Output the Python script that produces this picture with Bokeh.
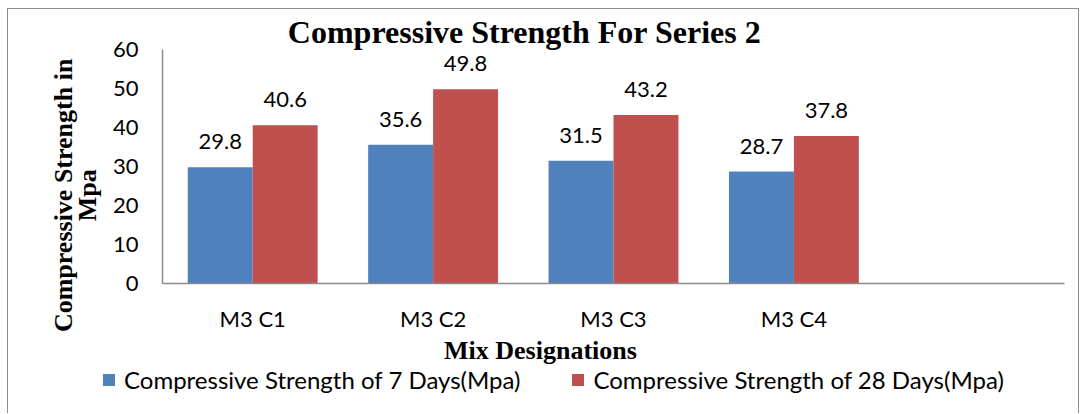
import math
from bokeh.plotting import figure
from bokeh.models import (ColumnDataSource, Range1d, LabelSet, Label, Legend, LegendItem,
                          LinearAxis, FixedTicker)
from bokeh.transform import dodge
from bokeh.core.properties import value
from bokeh.embed import file_html
from bokeh.resources import INLINE

# ---- data ----
categories = ["M3 C1", "M3 C2", "M3 C3", "M3 C4"]
strength_7_days = [29.8, 35.6, 31.5, 28.7]
strength_28_days = [40.6, 49.8, 43.2, 37.8]
series_names = ["Compressive Strength of 7 Days(Mpa)", "Compressive Strength of 28 Days(Mpa)"]
title_text = "Compressive Strength For Series 2"
x_title = "Mix Designations"
y_title_lines = ["Compressive Strength in", "Mpa"]
y_ticks = [0, 10, 20, 30, 40, 50, 60]
n_slots = 5  # the category axis has one empty slot at the right
x_centers = [i + 0.5 for i in range(len(categories))]

BLUE = "#4F81BD"
RED = "#C0504D"
AXIS = "#8c8c8c"
SANS = "Lato"
SERIF = "Liberation Serif"

src = ColumnDataSource(dict(
    x=x_centers,
    v7=strength_7_days,
    v28=strength_28_days,
    l7=[f"{v}" for v in strength_7_days],
    l28=[f"{v}" for v in strength_28_days],
))

p = figure(x_range=Range1d(-0.8537, 5.0887), y_range=Range1d(-33.59, 70.26),
           width=1072, height=405, output_backend="svg", toolbar_location=None,
           x_axis_type=None, y_axis_type=None, min_border=0)
p.title.visible = False
p.outline_line_color = None
p.background_fill_color = "white"
p.border_fill_color = "white"
p.grid.visible = False

r7 = p.vbar(x=dodge("x", -0.18), top="v7", width=0.36, source=src,
            fill_color=BLUE, line_color=None)
r28 = p.vbar(x=dodge("x", 0.18), top="v28", width=0.36, source=src,
             fill_color=RED, line_color=None)

for col, lab, off in (("v7", "l7", -0.18), ("v28", "l28", 0.18)):
    p.add_layout(LabelSet(x=dodge("x", off), y=col, text=lab, source=src,
                          y_offset=18, text_align="center", text_baseline="alphabetic",
                          text_font=value(SANS), text_font_size="22px", text_color="black"))

# axes, pinned at the plot-area edges
xaxis = LinearAxis(fixed_location=0, bounds=(0, n_slots),
                   ticker=FixedTicker(ticks=x_centers),
                   major_label_overrides={xc: c for xc, c in zip(x_centers, categories)})
yaxis = LinearAxis(fixed_location=0, bounds=(y_ticks[0], y_ticks[-1]),
                   ticker=FixedTicker(ticks=y_ticks))
for ax in (xaxis, yaxis):
    ax.axis_line_color = AXIS
    ax.axis_line_width = 1.5
    ax.major_tick_line_color = None
    ax.minor_tick_line_color = None
    ax.major_tick_out = 0
    ax.major_tick_in = 0
    ax.minor_tick_out = 0
    ax.major_label_text_font = SANS
    ax.major_label_text_font_size = "22px"
    ax.major_label_text_color = "black"
yaxis.major_label_standoff = 24
xaxis.major_label_standoff = 21
p.add_layout(xaxis, "below")
p.add_layout(yaxis, "left")

# title and axis titles
p.add_layout(Label(x=2.007, y=64.5, text=title_text, text_align="center", text_baseline="alphabetic",
                   text_font=SERIF, text_font_style="bold", text_font_size="32px",
                   text_color="black"))
p.add_layout(Label(x=2.095, y=-17.2, text=x_title, text_align="center", text_baseline="alphabetic",
                   text_font=SERIF, text_font_style="bold", text_font_size="26px",
                   text_color="black"))
for xv, t in zip((-0.548, -0.415), y_title_lines):
    p.add_layout(Label(x=xv, y=22.6, text=t, angle=math.pi / 2, text_align="center",
                       text_baseline="alphabetic", text_font=SERIF, text_font_style="bold",
                       text_font_size="26px", text_color="black"))

legend = Legend(items=[LegendItem(label=series_names[0], renderers=[r7]),
                       LegendItem(label=series_names[1], renderers=[r28])],
                location=(93, 20), orientation="horizontal",
                glyph_width=15, glyph_height=15, label_standoff=8, spacing=50,
                padding=0, margin=0, border_line_color=None, background_fill_alpha=0,
                label_text_font=SANS, label_text_font_size="24px", label_text_color="black",
                label_height=15)
p.add_layout(legend, "center")

p.styles = {"border-left": "1px solid #8c8c8c", "border-top": "1px solid #8c8c8c",
            "border-right": "1px solid #8c8c8c", "margin-left": "7px", "margin-top": "8px"}

open("out.html", "w").write(file_html(p, INLINE))
